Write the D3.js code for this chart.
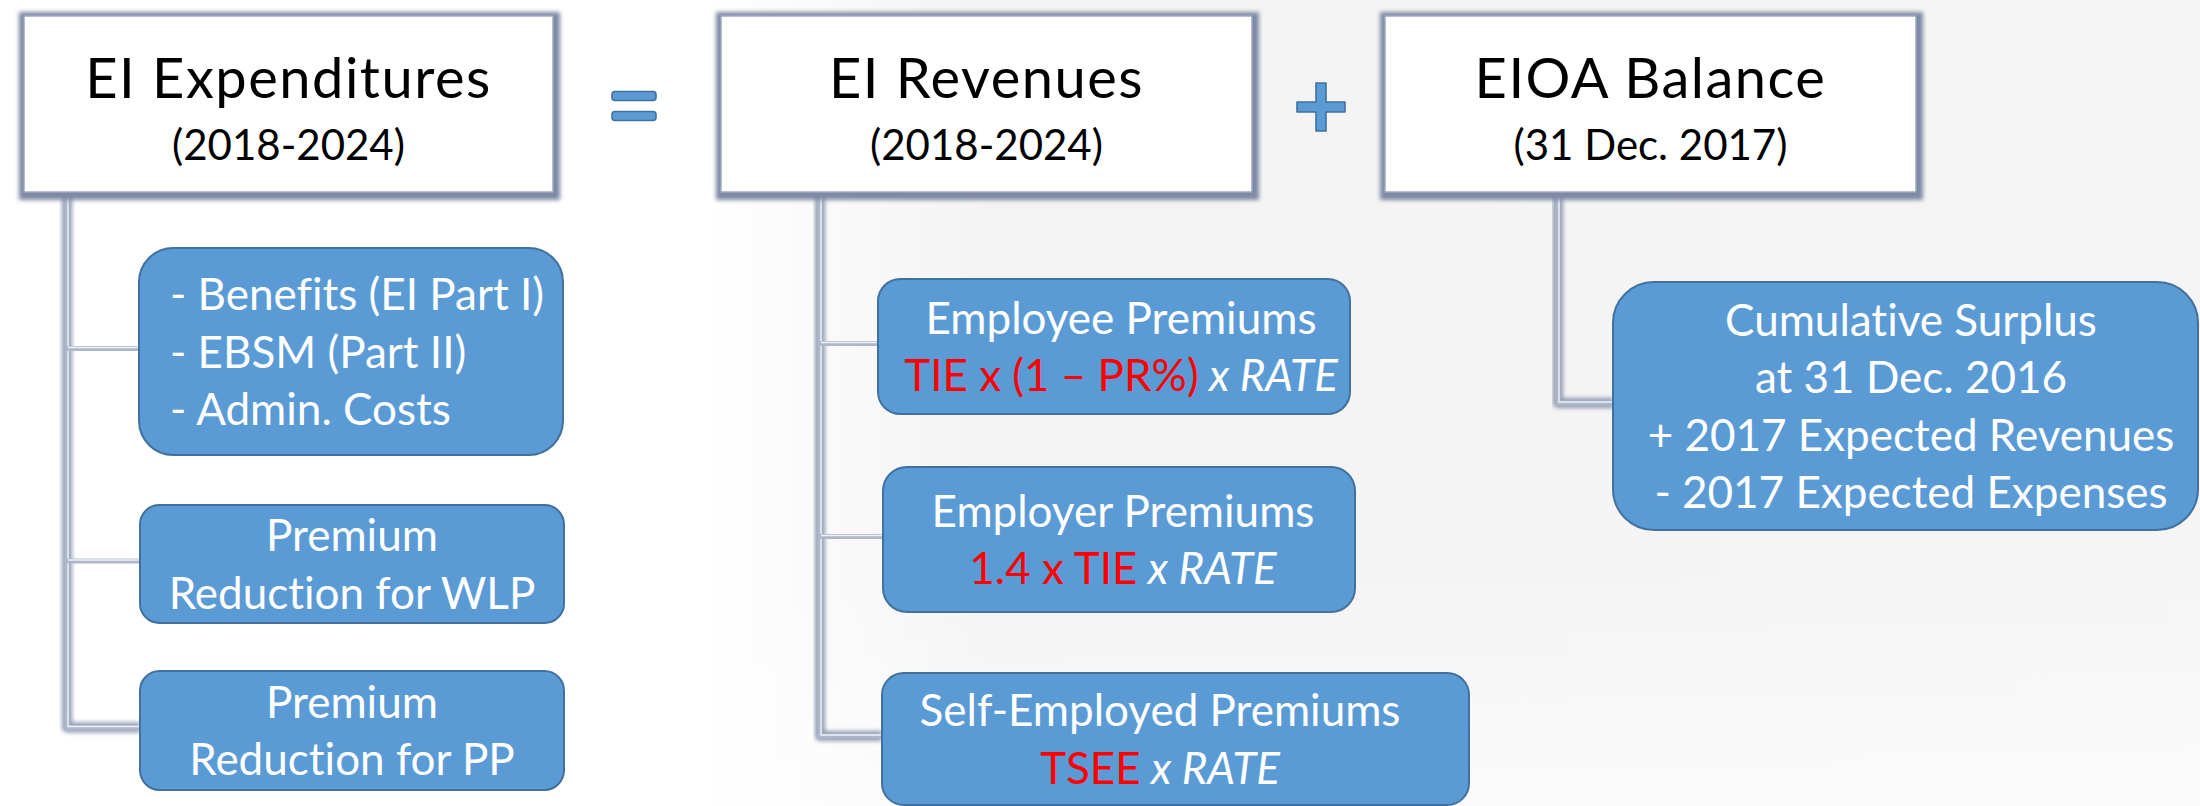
<!DOCTYPE html>
<html>
<head>
<meta charset="utf-8">
<script src="https://cdn.jsdelivr.net/npm/d3@7"></script>
<style>
    html, body { margin: 0; padding: 0; background: #ffffff; }
    svg { display: block; }
    .label { font-family: Lato, "Open Sans", sans-serif; font-variant-ligatures: none; }
</style>
</head>
<body>
<div id="chart"></div>
<script>
// Diagram content
const HEADER_TITLES = ["EI Expenditures", "EI Revenues", "EIOA Balance"];
const HEADER_SUBTITLES = ["(2018-2024)", "(2018-2024)", "(31 Dec. 2017)"];
const OPERATORS = ["=", "+"];
const EXPENDITURE_ITEMS = [
    ["- Benefits (EI Part I)", "- EBSM (Part II)", "- Admin. Costs"],
    ["Premium", "Reduction for WLP"],
    ["Premium", "Reduction for PP"]
];
const REVENUE_ITEMS = ["Employee Premiums", "Employer Premiums", "Self-Employed Premiums"];
const REVENUE_BASES = ["TIE x (1 \u2013 PR%)", "1.4 x TIE", "TSEE"];
const RATE_LABEL = "x RATE";
const BALANCE_ITEMS = [
    ["Cumulative Surplus", "at 31 Dec. 2016", "+ 2017 Expected Revenues", "- 2017 Expected Expenses"]
];

// Layout (pixels)
const WIDTH = 2200;
const HEIGHT = 806;
const HEADER_Y = 16;
const HEADER_H = 176;
const HEADER_X = [24, 721, 1385];
const HEADER_W = [529, 531, 531];
const OPERATOR_X = [634, 1321];
const OPERATOR_Y = 107;
const TRUNK_X = [67, 820, 1558];
const LINE_STEP = 57.5;

const CHILD_BOXES = [
    [
        {x: 139, y: 248, w: 424, h: 207, tx: 170, anchor: "start"},
        {x: 140, y: 505, w: 424, h: 118, tx: 352, anchor: "middle"},
        {x: 140, y: 671, w: 424, h: 119, tx: 352, anchor: "middle"}
    ],
    [
        {x: 878, y: 279, w: 472, h: 135, tx: 1121, anchor: "middle"},
        {x: 883, y: 467, w: 472, h: 145, tx: 1123, anchor: "middle"},
        {x: 882, y: 673, w: 587, h: 132, tx: 1160, anchor: "middle"}
    ],
    [
        {x: 1613, y: 282, w: 585, h: 248, tx: 1911, anchor: "middle"}
    ]
];

const BLUE = "#5b9bd5";
const BLUE_EDGE = "#41719c";
const RED = "#ff0000";

const svg = d3.select("#chart")
    .append("svg")
    .attr("width", WIDTH)
    .attr("height", HEIGHT);

const defs = svg.append("defs");

defs.append("filter")
    .attr("id", "soft")
    .attr("x", "-10%").attr("y", "-10%")
    .attr("width", "120%").attr("height", "120%")
    .append("feGaussianBlur")
    .attr("stdDeviation", 2.2);

const bgGrad = defs.append("linearGradient")
    .attr("id", "bg")
    .attr("x1", "0").attr("y1", "0")
    .attr("x2", "1").attr("y2", "0");
bgGrad.append("stop").attr("offset", "0").attr("stop-color", "#ffffff");
bgGrad.append("stop").attr("offset", "0.32").attr("stop-color", "#ffffff");
bgGrad.append("stop").attr("offset", "0.45").attr("stop-color", "#f3f3f3");
bgGrad.append("stop").attr("offset", "1").attr("stop-color", "#f5f5f5");

const bgFade = defs.append("linearGradient")
    .attr("id", "bgfade")
    .attr("x1", "0").attr("y1", "0")
    .attr("x2", "0").attr("y2", "1");
bgFade.append("stop").attr("offset", "0").attr("stop-color", "#ffffff").attr("stop-opacity", 0);
bgFade.append("stop").attr("offset", "0.7").attr("stop-color", "#ffffff").attr("stop-opacity", 0);
bgFade.append("stop").attr("offset", "1").attr("stop-color", "#ffffff").attr("stop-opacity", 0.6);

svg.append("rect")
    .attr("width", WIDTH).attr("height", HEIGHT)
    .attr("fill", "url(#bg)");
svg.append("rect")
    .attr("width", WIDTH).attr("height", HEIGHT)
    .attr("fill", "url(#bgfade)");

// Column scale: header index -> left edge
const columns = d3.range(HEADER_TITLES.length);
const headerX = d3.scaleOrdinal().domain(columns).range(HEADER_X);
const headerW = d3.scaleOrdinal().domain(columns).range(HEADER_W);
const trunkX = d3.scaleOrdinal().domain(columns).range(TRUNK_X);

const childLines = [
    EXPENDITURE_ITEMS.map((lines) => lines.map((t) => [{text: t, kind: "plain"}])),
    REVENUE_ITEMS.map((name, i) => [
        [{text: name, kind: "plain"}],
        [{text: REVENUE_BASES[i], kind: "base"}, {text: " " + RATE_LABEL, kind: "rate"}]
    ]),
    BALANCE_ITEMS.map((lines) => lines.map((t) => [{text: t, kind: "plain"}]))
];

// Connectors
const drawConnector = (points) => {
    const line = d3.line();
    const g = svg.append("g").classed("connector", true);
    g.append("path")
        .attr("d", line(points))
        .attr("fill", "none")
        .attr("stroke", "#8590aa")
        .attr("stroke-width", 10)
        .attr("stroke-linejoin", "round")
        .attr("filter", "url(#soft)")
        .attr("opacity", 0.9);
    g.append("path")
        .attr("d", line(points))
        .attr("fill", "none")
        .attr("stroke", "#aeb7ca")
        .attr("stroke-width", 5);
    g.append("path")
        .attr("d", line(points.map(([x, y]) => [x + 1, y - 1])))
        .attr("fill", "none")
        .attr("stroke", "#eef1f6")
        .attr("stroke-width", 1.4);
};

columns.forEach((col) => {
    const boxes = CHILD_BOXES[col];
    const x = trunkX(col);
    const stubYs = boxes.map((b) => b.y + b.h / 2 - 3);
    const last = boxes[boxes.length - 1];
    const lastY = Math.min(last.y + last.h / 2 - 3, 738);
    stubYs[stubYs.length - 1] = lastY;
    drawConnector([[x, HEADER_Y + HEADER_H + 2], [x, lastY], [last.x, lastY]]);
    boxes.slice(0, -1).forEach((b, i) => {
        drawConnector([[x, stubYs[i]], [b.x, stubYs[i]]]);
    });
});

// Header boxes
const headers = svg.selectAll(".header")
    .data(columns)
    .enter()
    .append("g")
    .classed("header", true);

headers.append("rect")
    .attr("x", (d) => headerX(d) + 1)
    .attr("y", HEADER_Y + 2)
    .attr("width", (d) => headerW(d))
    .attr("height", HEADER_H)
    .attr("fill", "none")
    .attr("stroke", "#7d89a5")
    .attr("stroke-width", 12)
    .attr("filter", "url(#soft)");

headers.append("rect")
    .attr("x", (d) => headerX(d))
    .attr("y", HEADER_Y)
    .attr("width", (d) => headerW(d))
    .attr("height", HEADER_H)
    .attr("fill", "#ffffff")
    .attr("stroke", "#9ea9bf")
    .attr("stroke-width", 1.5);

headers.append("text")
    .classed("label", true)
    .attr("x", (d) => headerX(d) + headerW(d) / 2)
    .attr("y", HEADER_Y + 82)
    .attr("text-anchor", "middle")
    .attr("font-size", 56)
    .attr("letter-spacing", 1.5)
    .attr("fill", "#000000")
    .text((d) => HEADER_TITLES[d]);

headers.append("text")
    .classed("label", true)
    .attr("x", (d) => headerX(d) + headerW(d) / 2)
    .attr("y", HEADER_Y + 144)
    .attr("text-anchor", "middle")
    .attr("font-size", 42)
    .attr("fill", "#000000")
    .text((d) => HEADER_SUBTITLES[d]);

// Operators "=" and "+"
const ops = svg.selectAll(".operator")
    .data(OPERATORS)
    .enter()
    .append("g")
    .classed("operator", true)
    .attr("transform", (d, i) => "translate(" + OPERATOR_X[i] + " " + OPERATOR_Y + ")");

ops.each(function (d) {
    const g = d3.select(this);
    const style = (sel) => sel
        .attr("fill", BLUE)
        .attr("stroke", BLUE_EDGE)
        .attr("stroke-width", 1.6);
    if (d === "=") {
        [-11, 9].forEach((dy) => {
            g.append("rect")
                .attr("x", -22).attr("y", dy - 4.5)
                .attr("width", 44).attr("height", 9)
                .attr("rx", 3)
                .call(style);
        });
    } else {
        g.append("path")
            .attr("d", "M-5,-24 h10 v19 h19 v10 h-19 v19 h-10 v-19 h-19 v-10 h19 z")
            .attr("stroke-linejoin", "round")
            .call(style);
    }
});

// Child boxes with text
columns.forEach((col) => {
    CHILD_BOXES[col].forEach((b, i) => {
        const g = svg.append("g").classed("item", true);
        g.append("rect")
            .attr("x", b.x).attr("y", b.y)
            .attr("width", b.w).attr("height", b.h)
            .attr("rx", Math.min(b.w, b.h) * 0.165)
            .attr("fill", BLUE)
            .attr("stroke", BLUE_EDGE)
            .attr("stroke-width", 2);

        const lines = childLines[col][i];
        const mid = b.y + b.h / 2 + 16;
        const first = mid - (lines.length - 1) * LINE_STEP / 2;

        lines.forEach((runs, li) => {
            const t = g.append("text")
                .classed("label", true)
                .attr("x", b.tx)
                .attr("y", first + li * LINE_STEP)
                .attr("text-anchor", b.anchor)
                .attr("font-size", 44)
                .attr("fill", "#ffffff");
            runs.forEach((r) => {
                t.append("tspan")
                    .attr("fill", r.kind === "base" ? RED : "#ffffff")
                    .attr("font-style", r.kind === "rate" ? "italic" : "normal")
                    .attr("xml:space", "preserve")
                    .text(r.text);
            });
        });
    });
});
</script>
</body>
</html>
